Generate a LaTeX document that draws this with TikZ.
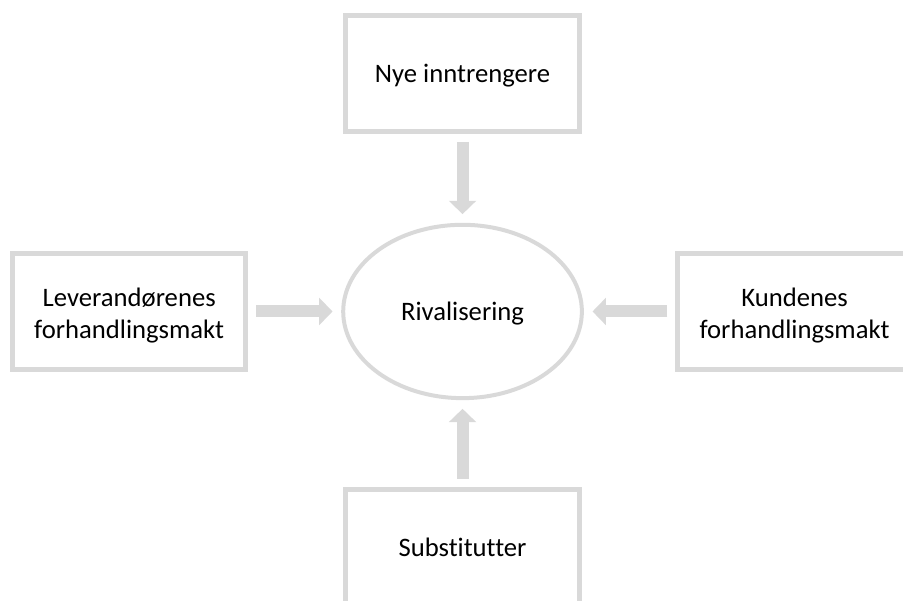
\documentclass[tikz,border=0pt]{standalone}
\usepackage{fontspec}
\setmainfont{Carlito}[Ligatures={NoCommon}]
\usepackage{tikz}
\usetikzlibrary{shapes.geometric, arrows.meta}
\definecolor{linegray}{HTML}{D9D9D9}
\newcommand{\lift}{\rule{0pt}{20pt}}
\tikzstyle{force}     = [rectangle, minimum width=175pt, minimum height=87pt, align=center, draw=linegray, line width=3.75pt, fill=white]
\tikzstyle{single}    = [text height=19pt, text depth=5pt]
\tikzstyle{core}      = [ellipse, minimum width=179pt, minimum height=130pt, text height=19pt, text depth=5pt, align=center, draw=linegray, line width=3pt]
\tikzstyle{arrow}     = [draw=linegray, line width=9pt, -{Triangle[width=20pt,length=10pt]}, shorten <=6pt, shorten >=6.5pt]

\begin{document}
\begin{tikzpicture}[node distance=178pt, font=\fontsize{20}{24}\selectfont]
      \useasboundingbox (0pt,0pt) rectangle (677.25pt,-450pt);

      \node (riv)  [core] at (346.9pt,-233.6pt) {Rivalisering};

      \node (nye)  [force, single, above of=riv, yshift=0.5pt] {Nye inntrengere};
      \node (lev)  [force, left of=riv, xshift=-72pt] {\lift Leverandørenes\\forhandlingsmakt};
      \node (kun)  [force, right of=riv, xshift=71pt] {\lift Kundenes\\forhandlingsmakt};
      \node (sub)  [force, single, below of=riv, yshift=1pt] {Substitutter};

      \draw [arrow] (nye) -- (riv);
      \draw [arrow] (lev) -- (riv);
      \draw [arrow] (kun) -- (riv);
      \draw [arrow] (sub) -- (riv);

    \end{tikzpicture}
\end{document}
